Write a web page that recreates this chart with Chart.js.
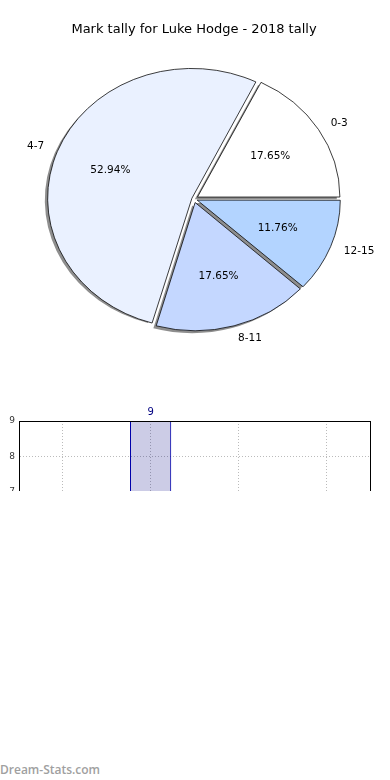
<!DOCTYPE html>
<html>
<head>
<meta charset="utf-8">
<script src="https://cdn.jsdelivr.net/npm/chart.js@4.4.0/dist/chart.umd.min.js"></script>
<style>
  body { margin: 0; background: #fff; width: 390px; height: 780px; position: relative; overflow: hidden; }
  #pie { position: absolute; left: 0; top: 0; }
  #barBox { position: absolute; left: 0; top: 395px; width: 390px; height: 96px; overflow: hidden; }
  #mark { position: absolute; left: 0; top: 761px; font: 600 12px "Open Sans", sans-serif; color: #a0a0a0; }
</style>
</head>
<body>
<canvas id="pie" width="390" height="390"></canvas>
<div id="barBox"><canvas id="bar" width="390" height="376"></canvas></div>
<div id="mark">Dream-Stats.com</div>
<script>
const chartTitle = 'Mark tally for Luke Hodge - 2018 tally';
const categories = ['0-3', '4-7', '8-11', '12-15'];
const counts = [3, 9, 3, 2];
const yTicks = [0, 1, 2, 3, 4, 5, 6, 7, 8, 9];

// colori delle fette, stesso ordine delle categorie
const sliceColors = ['#ffffff', '#eaf1ff', '#c4d7ff', '#b3d4ff'];
const ySquash = 0.9; // la torta originale e' un'ellisse

// Chart.js gira in senso orario, matplotlib in senso antiorario: invertiamo l'ordine
const pieOrder = [3, 2, 1, 0];
const total = counts.reduce((a, b) => a + b, 0);

function arcShift(arc) {
  // stesso spostamento che ArcElement applica con l'opzione offset
  const c = arc.endAngle - arc.startAngle;
  const fix = 1 - Math.sin(Math.min(Math.PI, c));
  return (arc.options.offset || 0) / 4 * (1 + fix);
}

const piePlugin = {
  id: 'pieStyle',
  beforeDatasetsDraw(chart) {
    const meta = chart.getDatasetMeta(0);
    const arc0 = meta.data[0];
    const ctx = chart.ctx;
    ctx.save();
    ctx.translate(arc0.x, arc0.y);
    ctx.scale(1, ySquash);
    ctx.translate(-arc0.x, -arc0.y);
    // ombre sotto le fette (solo riempimento, niente bordo)
    ctx.save();
    ctx.fillStyle = 'rgba(50,50,50,0.55)';
    meta.data.forEach(arc => {
      const mid = (arc.startAngle + arc.endAngle) / 2;
      const d = arcShift(arc);
      const cx = arc.x + Math.cos(mid) * d - 3;
      const cy = arc.y + Math.sin(mid) * d + 2.5 / ySquash;
      ctx.beginPath();
      ctx.moveTo(cx, cy);
      ctx.arc(cx, cy, arc.outerRadius, arc.startAngle, arc.endAngle);
      ctx.closePath();
      ctx.fill();
    });
    ctx.restore();
  },
  afterDatasetsDraw(chart) {
    chart.ctx.restore();
  },
  afterDraw(chart) {
    const ctx = chart.ctx;
    const meta = chart.getDatasetMeta(0);
    ctx.save();
    ctx.fillStyle = '#000';
    ctx.font = '10.5px "DejaVu Sans"';
    ctx.textBaseline = 'middle';
    meta.data.forEach((arc, i) => {
      const idx = pieOrder[i];
      const mid = (arc.startAngle + arc.endAngle) / 2;
      const cos = Math.cos(mid), sin = Math.sin(mid);
      const d = arcShift(arc);
      const R = arc.outerRadius;
      const lx = arc.x + cos * (d + 1.1 * R);
      const ly = arc.y + sin * (d + 1.1 * R) * ySquash;
      ctx.textAlign = cos >= 0 ? 'left' : 'right';
      ctx.fillText(categories[idx], lx, ly);
      const px = arc.x + cos * (d + 0.6 * R);
      const py = arc.y + sin * (d + 0.6 * R) * ySquash;
      ctx.textAlign = 'center';
      ctx.fillText((counts[idx] / total * 100).toFixed(2) + '%', px, py);
    });
    ctx.restore();
  }
};

new Chart(document.getElementById('pie'), {
  type: 'pie',
  data: {
    labels: pieOrder.map(i => categories[i]),
    datasets: [{
      data: pieOrder.map(i => counts[i]),
      backgroundColor: pieOrder.map(i => sliceColors[i]),
      borderColor: '#000',
      borderWidth: 0.8,
      offset: [13.6, 16.3, 9, 16.3],
      radius: 142,
      rotation: 90
    }]
  },
  options: {
    responsive: false,
    animation: false,
    events: [],
    layout: { padding: { top: 0, right: 2, bottom: 39.6, left: 0 } },
    plugins: {
      legend: { display: false },
      tooltip: { enabled: false },
      title: {
        display: true,
        text: chartTitle,
        color: '#000',
        font: { family: 'DejaVu Sans', size: 13, weight: 'normal', lineHeight: 1.2 },
        padding: { top: 22, bottom: 10 }
      }
    }
  },
  plugins: [piePlugin]
});

// grafico a barre: si vede solo la parte alta, il resto e' tagliato
const barPlugin = {
  id: 'barExtras',
  afterDatasetsDraw(chart) {
    const ctx = chart.ctx;
    const meta = chart.getDatasetMeta(0);
    ctx.save();
    ctx.fillStyle = '#000080';
    ctx.font = '10px "DejaVu Sans"';
    ctx.textAlign = 'center';
    ctx.textBaseline = 'middle';
    meta.data.forEach((bar, i) => {
      ctx.fillText(String(counts[i]), bar.x, bar.y - 8.5);
    });
    ctx.restore();
  },
  afterDraw(chart) {
    const { ctx, chartArea: a } = chart;
    ctx.save();
    ctx.strokeStyle = '#000';
    ctx.lineWidth = 1;
    ctx.strokeRect(Math.round(a.left) + 0.5, Math.round(a.top) + 0.5,
      Math.round(a.right - a.left), Math.round(a.bottom - a.top));
    ctx.restore();
  }
};

new Chart(document.getElementById('bar'), {
  type: 'bar',
  data: {
    labels: categories,
    datasets: [{
      data: counts,
      backgroundColor: 'rgba(0,0,128,0.2)',
      borderColor: '#0000aa',
      borderWidth: 1,
      borderSkipped: false,
      barPercentage: 0.47,
      categoryPercentage: 1
    }]
  },
  options: {
    responsive: false,
    animation: false,
    events: [],
    layout: { padding: { top: 26, right: 20, bottom: 0, left: 0 } },
    plugins: { legend: { display: false }, tooltip: { enabled: false } },
    scales: {
      x: {
        offset: true,
        grid: { offset: false, color: '#bbbbbb', drawTicks: false },
        border: { color: '#000', dash: [1, 2] },
        ticks: { color: '#333', font: { family: 'DejaVu Sans', size: 9 }, padding: 4 },
        afterFit: s => { s.height = 30; }
      },
      y: {
        min: yTicks[0],
        max: yTicks[yTicks.length - 1],
        afterBuildTicks: s => { s.ticks = yTicks.map(v => ({ value: v })); },
        grid: { color: '#bbbbbb', drawTicks: false },
        border: { color: '#000', dash: [1, 2] },
        ticks: { color: '#333', font: { family: 'DejaVu Sans', size: 9 }, padding: 4 },
        afterFit: s => { s.width = 19; }
      }
    }
  },
  plugins: [barPlugin]
});
</script>
</body>
</html>
